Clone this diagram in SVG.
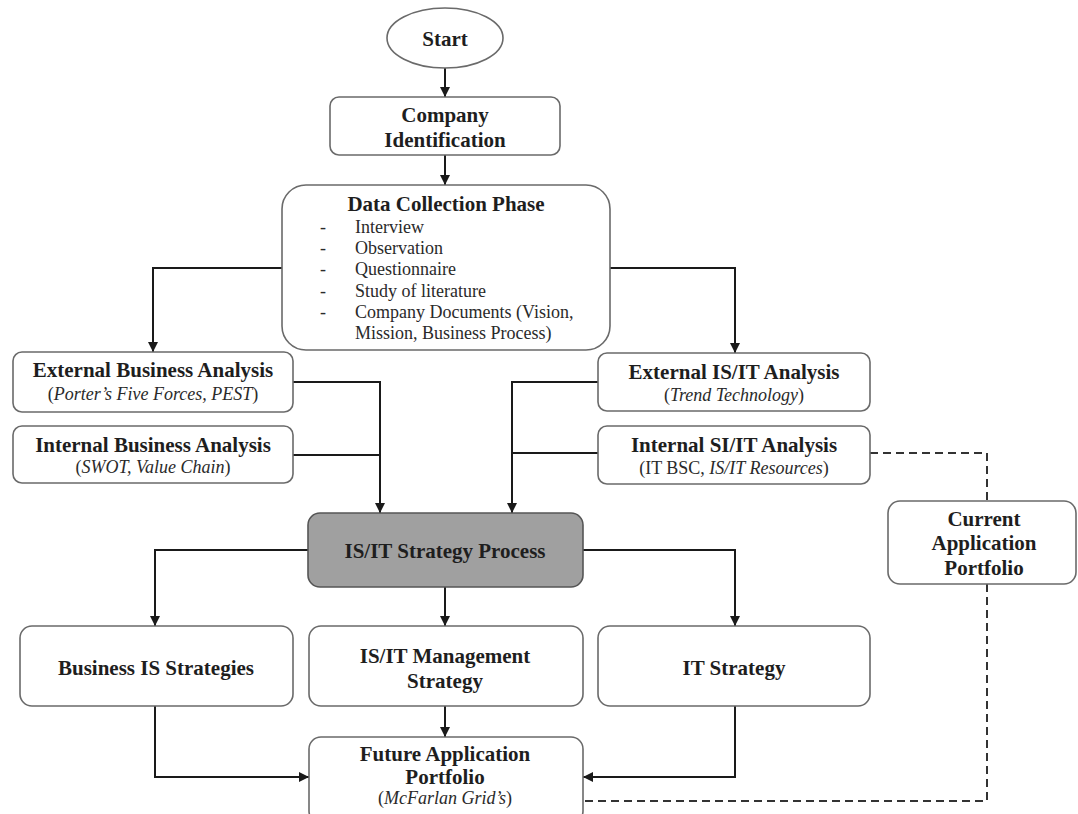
<svg xmlns="http://www.w3.org/2000/svg" width="1078" height="814" viewBox="0 0 1078 814">
<defs>
<marker id="ah" viewBox="0 0 10 10" refX="10" refY="5" markerWidth="10" markerHeight="10" markerUnits="userSpaceOnUse" orient="auto">
<path d="M0,0 L10,5 L0,10 z" fill="#1a1a1a"/>
</marker>
<style>
.box{fill:#fff;stroke:#6a6a6a;stroke-width:1.6}
.proc{fill:#a0a0a0;stroke:#555;stroke-width:1.6}
.t{font-family:"Liberation Serif","Times New Roman",serif;font-weight:bold;font-size:21px;fill:#1e1e1e;text-anchor:middle}
.s{font-family:"Liberation Serif","Times New Roman",serif;font-size:18px;fill:#2a2a2a;text-anchor:middle}
.l{font-family:"Liberation Serif","Times New Roman",serif;font-size:18px;fill:#2a2a2a}
.i{font-style:italic}
.c{fill:none;stroke:#1a1a1a;stroke-width:2}
.d{fill:none;stroke:#333;stroke-width:2;stroke-dasharray:8 5}
</style>
</defs>
<rect width="1078" height="814" fill="#fff"/>
<g id="connectors">
<path class="c" d="M445,68 V97" marker-end="url(#ah)"/>
<path class="c" d="M445,155 V185" marker-end="url(#ah)"/>
<path class="c" d="M282,268 H153 V352" marker-end="url(#ah)"/>
<path class="c" d="M610,268 H735 V353" marker-end="url(#ah)"/>
<path class="c" d="M293,382 H380 V513" marker-end="url(#ah)"/>
<path class="c" d="M293,455 H380"/>
<path class="c" d="M598,382 H512 V513" marker-end="url(#ah)"/>
<path class="c" d="M598,453 H512"/>
<path class="c" d="M308,550 H155 V626" marker-end="url(#ah)"/>
<path class="c" d="M583,550 H735 V626" marker-end="url(#ah)"/>
<path class="c" d="M445,587 V626" marker-end="url(#ah)"/>
<path class="c" d="M445,706 V737" marker-end="url(#ah)"/>
<path class="c" d="M155,706 V777 H309" marker-end="url(#ah)"/>
<path class="c" d="M735,706 V777 H583" marker-end="url(#ah)"/>
<path class="d" d="M870,453 H987 V501"/>
<path class="d" d="M987,584 V801 H583"/>
</g>
<g id="start">
<ellipse class="box" cx="445" cy="38" rx="58" ry="30"/>
<text class="t" x="445" y="46">Start</text>
</g>
<g id="company">
<rect class="box" x="330" y="97" width="230" height="58" rx="9"/>
<text class="t" x="445" y="122">Company</text>
<text class="t" x="445" y="147">Identification</text>
</g>
<g id="data-collection">
<rect class="box" x="282" y="185" width="328" height="165" rx="24"/>
<text class="t" x="446" y="211">Data Collection Phase</text>
<text class="l" x="320" y="233">-</text><text class="l" x="355" y="233">Interview</text>
<text class="l" x="320" y="254">-</text><text class="l" x="355" y="254">Observation</text>
<text class="l" x="320" y="275">-</text><text class="l" x="355" y="275">Questionnaire</text>
<text class="l" x="320" y="297">-</text><text class="l" x="355" y="297">Study of literature</text>
<text class="l" x="320" y="318">-</text><text class="l" x="355" y="318">Company Documents (Vision,</text>
<text class="l" x="355" y="339">Mission, Business Process)</text>
</g>
<g id="ext-business">
<rect class="box" x="13" y="352" width="280" height="60" rx="9"/>
<text class="t" x="153" y="377">External Business Analysis</text>
<text class="s" x="153" y="400">(<tspan class="i">Porter’s Five Forces, PEST</tspan>)</text>
</g>
<g id="int-business">
<rect class="box" x="13" y="426" width="280" height="57" rx="9"/>
<text class="t" x="153" y="452">Internal Business Analysis</text>
<text class="s" x="153" y="473">(<tspan class="i">SWOT, Value Chain</tspan>)</text>
</g>
<g id="ext-isit">
<rect class="box" x="598" y="353" width="272" height="58" rx="9"/>
<text class="t" x="734" y="379">External IS/IT Analysis</text>
<text class="s" x="734" y="401">(<tspan class="i">Trend Technology</tspan>)</text>
</g>
<g id="int-siit">
<rect class="box" x="598" y="426" width="272" height="58" rx="9"/>
<text class="t" x="734" y="452">Internal SI/IT Analysis</text>
<text class="s" x="734" y="474">(IT BSC, <tspan class="i">IS/IT Resources</tspan>)</text>
</g>
<g id="strategy-process">
<rect class="proc" x="308" y="513" width="275" height="74" rx="12"/>
<text class="t" x="445" y="558">IS/IT Strategy Process</text>
</g>
<g id="current-portfolio">
<rect class="box" x="888" y="501" width="188" height="83" rx="12"/>
<text class="t" x="984" y="526">Current</text>
<text class="t" x="984" y="550">Application</text>
<text class="t" x="984" y="575">Portfolio</text>
</g>
<g id="business-is">
<rect class="box" x="20" y="626" width="273" height="80" rx="12"/>
<text class="t" x="156" y="675">Business IS Strategies</text>
</g>
<g id="isit-management">
<rect class="box" x="309" y="626" width="274" height="80" rx="12"/>
<text class="t" x="445" y="663">IS/IT Management</text>
<text class="t" x="445" y="688">Strategy</text>
</g>
<g id="it-strategy">
<rect class="box" x="598" y="626" width="272" height="80" rx="12"/>
<text class="t" x="734" y="675">IT Strategy</text>
</g>
<g id="future-portfolio">
<rect class="box" x="309" y="737" width="274" height="86" rx="12"/>
<text class="t" x="445" y="761">Future Application</text>
<text class="t" x="445" y="784">Portfolio</text>
<text class="s" x="445" y="804">(<tspan class="i">McFarlan Grid’s</tspan>)</text>
</g>
</svg>
